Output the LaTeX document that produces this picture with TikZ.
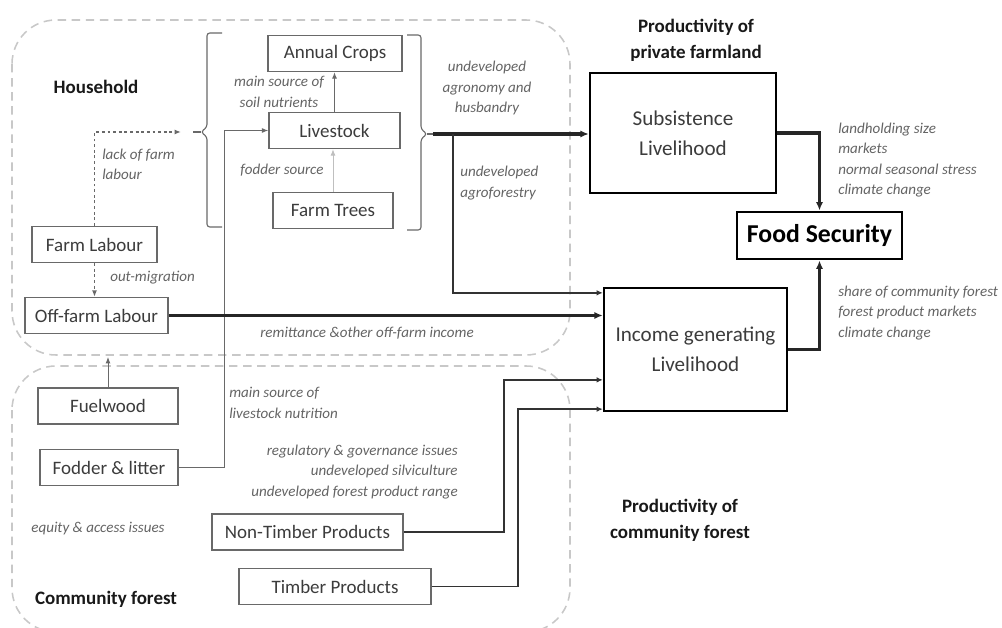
\documentclass[tikz,border=0pt]{standalone}
\usepackage{fontspec}
\setmainfont{Carlito}
\usetikzlibrary{arrows.meta,positioning,calc}
\definecolor{boxline}{RGB}{105,105,105}
\definecolor{boxtext}{RGB}{60,60,60}
\definecolor{notetext}{RGB}{100,100,100}
\definecolor{zoneline}{RGB}{200,200,200}

\begin{document}
\begin{tikzpicture}[
  x=0.025cm, y=-0.025cm,
  bx/.style={draw=boxline, line width=1pt, text=boxtext, inner sep=0pt,
    minimum height=0.9cm, font=\fontsize{13.5}{16}\selectfont},
  mb/.style={draw=black, line width=1.6pt, text=boxtext, inner sep=0pt,
    align=center, font=\fontsize{15}{21}\selectfont},
  nt/.style={text=notetext, inner sep=0pt,
    font=\fontsize{10.7}{14.4}\selectfont\itshape},
  hd/.style={text=black!90, inner sep=0pt, align=center,
    font=\fontsize{13.5}{18.5}\selectfont\bfseries},
  zn/.style={draw=zoneline, line width=1.1pt, dash pattern=on 6pt off 4pt,
    rounded corners=1.1cm},
  br/.style={draw=boxline, line width=0.8pt, rounded corners=2pt},
  fat/.style={line width=2.2pt, draw=black!85,
    -{Latex[length=6pt,width=5pt]}},
  med/.style={line width=1.4pt, draw=black!80,
    -{Latex[length=4.5pt,width=4pt]}},
  thn/.style={line width=0.7pt, draw=boxline,
    -{Latex[length=4.5pt,width=3.5pt]}},
  dtd/.style={line width=0.9pt, draw=boxline, dash pattern=on 2pt off 2pt,
    -{Latex[length=4.5pt,width=3.5pt]}},
]
\path[fill=white, use as bounding box] (0,0) rectangle (1002,628);
% zones
\draw[zn] (12,20) rectangle (570,355);
\draw[zn] (12,366) rectangle (570,632);
\node[hd] (hh) at (96,87) {Household};
\node[hd] (cf) at (106,599) {Community forest};
\node[hd] (pf) at (696,40) {Productivity of\\private farmland};
\node[hd] (pc) at (680,520) {Productivity of\\community forest};
% components
\foreach \n/\t/\x/\y/\w in {
    ann/Annual Crops/335/53.5/3.35,
    live/Livestock/334.5/130.5/3.275,
    tree/Farm Trees/333/210.5/3.0,
    flab/Farm Labour/94.5/244.5/3.125,
    offl/Off-farm Labour/96.5/315.5/3.575,
    fuel/Fuelwood/108/406/3.5,
    fod/Fodder \& litter/109/467.5/3.45,
    ntp/Non-Timber Products/307.5/532/4.775,
    tp/Timber Products/335/586.5/4.8} {
  \node[bx, minimum width=\w cm] (\n) at (\x,\y) {\t};
}
% livelihoods and outcome
\node[mb, minimum width=4.65cm, minimum height=3cm] (sub) at (683,133)
  {Subsistence\\Livelihood};
\node[mb, minimum width=4.575cm, minimum height=3.075cm] (inc)
  at (695.5,349.5) {Income generating\\Livelihood};
\node[mb, line width=2pt, minimum width=4.125cm, minimum height=1.175cm,
  text=black, font=\fontsize{18.3}{22}\selectfont\bfseries] (food)
  at (819.5,235.5) {Food Security};
% farm braces
\draw[br] (222,33) -- (207,33) -- (207,127) -- (201,132) -- (207,137)
  -- (207,227) -- (222,227);
\coordinate (lbr) at (193,132);
\draw[br] (201,132) -- (lbr);
\draw[br] (407,35) -- (421,35) -- (421,129) -- (427,134) -- (421,139)
  -- (421,230) -- (407,230);
\coordinate (rbr) at (433,134);
\draw[br] (427,134) -- (rbr);
% household links
\coordinate (labin) at (181,132);
\draw[dtd] (flab.north) |- (labin);
\draw[dtd] (flab.south) -- (flab.south |- offl.north);
\draw[thn] (live.north) -- (live.north |- ann.south);
\draw[thn, draw=gray!50] (tree.north) -- (tree.north |- live.south);
\draw[thn] (fod.east) -- ++(46,0) |- (live.west);
\coordinate (hhedge) at (108,357);
\draw[thn] (fuel.north) -- (hhedge);
% livelihood links
\draw[fat] (rbr) -- (rbr -| sub.west);
\coordinate (agf) at (453,134);
\draw[med] (agf) |- ([yshift=-0.15cm]inc.north west);
\draw[fat] (offl.east) -- (offl.east -| inc.west);
\draw[med] (ntp.east) -- ++(100,0) |- ([yshift=-2.325cm]inc.north west);
\draw[med] (tp.east) -- ++(86,0) |- ([yshift=0.075cm]inc.south west);
\draw[fat] (sub.east) -| (food.north);
\draw[fat] (inc.east) -| (food.south);
% notes
\node[nt, align=left, anchor=west] (n1) at (102,164) {lack of farm\\labour};
\node[nt, anchor=west] (n2) at (110,278) {out-migration};
\node[nt, align=center] (n3) at (279,92) {main source of\\soil nutrients};
\node[nt] (n4) at (282,170) {fodder source};
\node[nt, align=center] (n5) at (487,88)
  {undeveloped\\agronomy and\\husbandry};
\node[nt, align=left, anchor=west] (n6) at (460,183)
  {undeveloped\\agroforestry};
\node[nt] (n7) at (367,333) {remittance \&other off-farm income};
\node[nt, align=left, anchor=west] (n8) at (229,403)
  {main source of\\livestock nutrition};
\node[nt, align=right, anchor=east] (n9) at (458,472)
  {regulatory \& governance issues\\undeveloped silviculture\\
   undeveloped forest product range};
\node[nt] (n10) at (98,529) {equity \& access issues};
\node[nt, align=left, anchor=west] (n11) at (838,160)
  {landholding size\\markets\\normal seasonal stress\\climate change};
\node[nt, align=left, anchor=west] (n12) at (838,313)
  {share of community forest\\forest product markets\\climate change};
\end{tikzpicture}
\end{document}
